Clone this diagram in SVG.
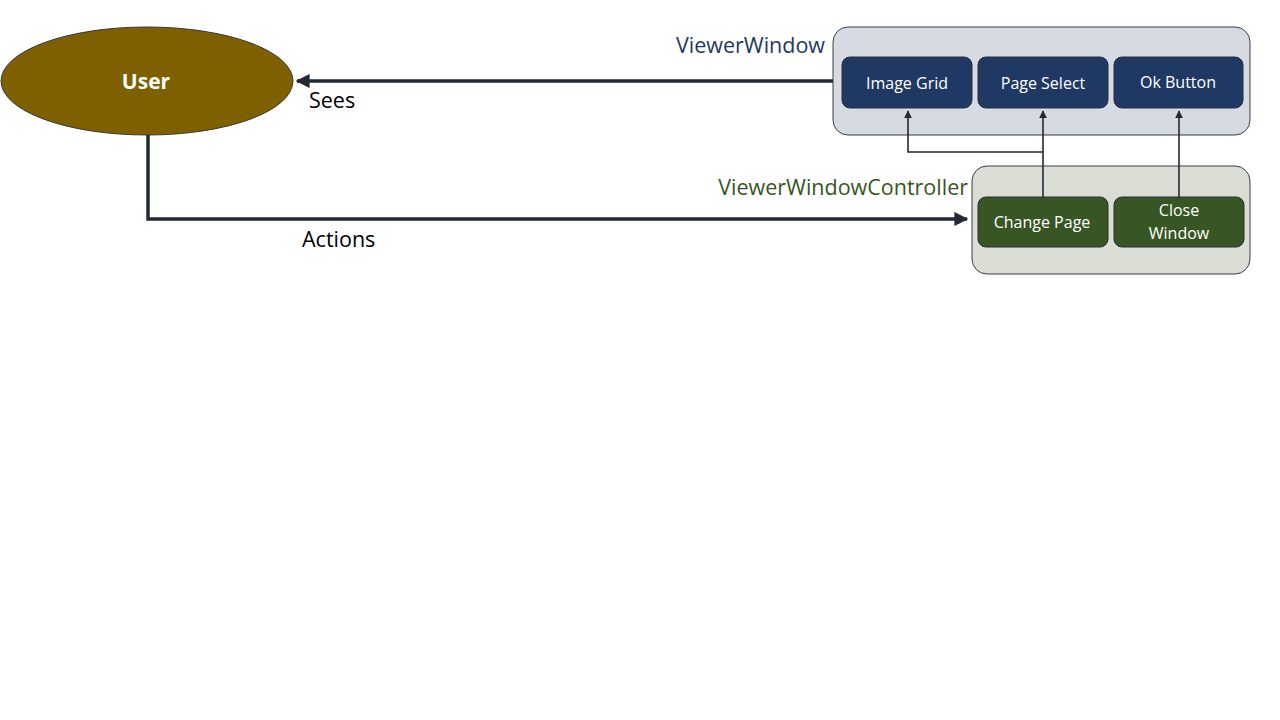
<svg xmlns="http://www.w3.org/2000/svg" width="1280" height="720" viewBox="0 0 1280 720">
<style>
text{font-family:"Open Sans","Liberation Sans",sans-serif}
.lbl{font-size:21.5px;fill:#000}
.btn{font-size:16px;fill:#fff;text-anchor:middle}
.vw{fill:#1f3864;stroke:#2a2f3a;stroke-width:1}
.vc{fill:#375623;stroke:#2a2f3a;stroke-width:1}
.thick{fill:none;stroke:#222a35;stroke-width:3.5}
.thin{fill:none;stroke:#222a35;stroke-width:1.6}
</style>
<defs>
<marker id="ah" viewBox="0 0 10 10" refX="9" refY="5" markerWidth="4" markerHeight="4" orient="auto"><path d="M0,0L10,5L0,10z" fill="#222a35"/></marker>
<marker id="ahs" viewBox="0 0 10 10" refX="9" refY="5" markerWidth="5" markerHeight="5" orient="auto"><path d="M0,0L10,5L0,10z" fill="#222a35"/></marker>
</defs>
<rect width="1280" height="720" fill="#fff"/>
<g id="user">
<ellipse cx="147" cy="81" rx="146" ry="54" fill="#7f6000" stroke="#3a3a3a" stroke-width="1"/>
<text x="146" y="89" font-size="21" font-weight="bold" fill="#fff" text-anchor="middle">User</text>
</g>
<g id="viewerWindow">
<rect x="833" y="27" width="417" height="108" rx="15" fill="#d6dae3" stroke="#3a3f48" stroke-width="1"/>
<text x="825" y="53" font-size="21.5" fill="#1f3864" text-anchor="end">ViewerWindow</text>
</g>
<g id="imageGrid"><rect class="vw" x="842" y="57" width="130" height="51" rx="8"/><text class="btn" x="907" y="89">Image Grid</text></g>
<g id="pageSelect"><rect class="vw" x="978" y="57" width="130" height="51" rx="8"/><text class="btn" x="1043" y="89">Page Select</text></g>
<g id="okButton"><rect class="vw" x="1114" y="57" width="129" height="51" rx="8"/><text class="btn" x="1178" y="88">Ok Button</text></g>
<g id="viewerWindowController">
<rect x="972" y="166" width="278" height="108" rx="15" fill="#d9ddd4" stroke="#3a3f48" stroke-width="1"/>
<text x="968" y="195" font-size="21.5" fill="#375623" text-anchor="end">ViewerWindowController</text>
</g>
<g id="changePage"><rect class="vc" x="978" y="197" width="130" height="50" rx="8"/><text class="btn" x="1042" y="228">Change Page</text></g>
<g id="closeWindow"><rect class="vc" x="1114" y="197" width="130" height="50" rx="8"/><text class="btn" x="1179" y="216">Close</text><text class="btn" x="1179" y="239">Window</text></g>
<g id="connectors">
<path class="thick" d="M833,81H297" marker-end="url(#ah)"/>
<path class="thick" d="M148,135V219H967" marker-end="url(#ah)"/>
<path class="thin" d="M1043,197V152H908V111" marker-end="url(#ahs)"/>
<path class="thin" d="M1043,152V111" marker-end="url(#ahs)"/>
<path class="thin" d="M1179,197V111" marker-end="url(#ahs)"/>
</g>
<text class="lbl" x="309" y="108">Sees</text>
<text class="lbl" x="302" y="247">Actions</text>
</svg>
